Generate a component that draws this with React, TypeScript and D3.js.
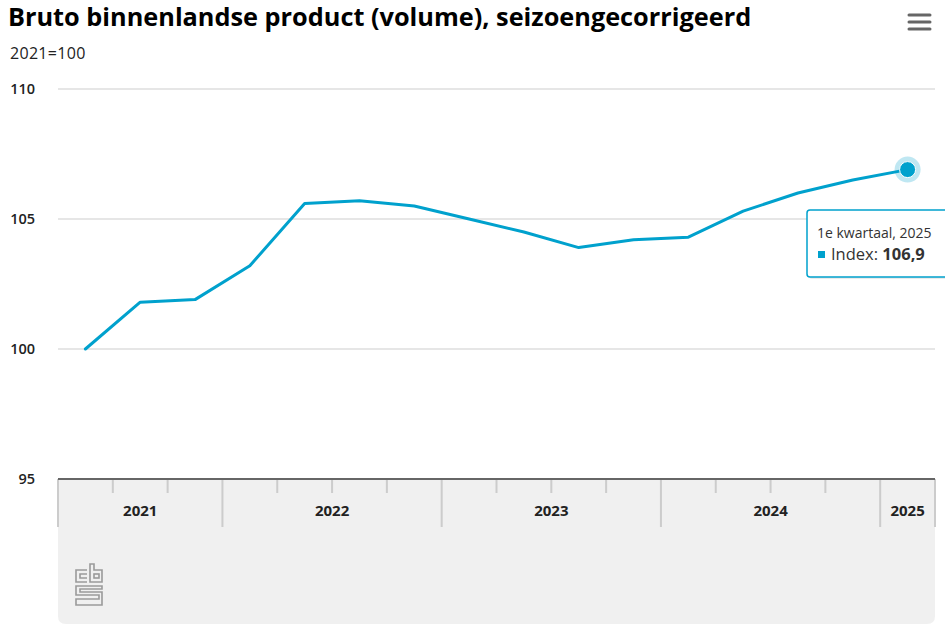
import React from "react";
import * as d3 from "d3";

const periods = [
  "2021 2e kwartaal", "2021 3e kwartaal", "2021 4e kwartaal",
  "2022 1e kwartaal", "2022 2e kwartaal", "2022 3e kwartaal", "2022 4e kwartaal",
  "2023 1e kwartaal", "2023 2e kwartaal", "2023 3e kwartaal", "2023 4e kwartaal",
  "2024 1e kwartaal", "2024 2e kwartaal", "2024 3e kwartaal", "2024 4e kwartaal",
  "2025 1e kwartaal",
];
const periodYears = ["2021", "2021", "2021", "2022", "2022", "2022", "2022", "2023", "2023", "2023", "2023", "2024", "2024", "2024", "2024", "2025"];
const indexValues = [100.0, 101.8, 101.9, 103.2, 105.6, 105.7, 105.5, 105.0, 104.5, 103.9, 104.2, 104.3, 105.3, 106.0, 106.5, 106.9];
const yTicks = [95, 100, 105, 110];

const W = 945;
const H = 631;
const FONT = "'Open Sans', 'Noto Sans', sans-serif";
const BLUE = "#00a1cd";

export default function App() {
  const left = 58, right = 935, top = 89, bottom = 479;
  const x = d3.scaleBand<string>().domain(periods).range([left, right]).padding(0);
  const y = d3.scaleLinear().domain([95, 110]).range([bottom, top]);
  const cx = (p: string) => (x(p) ?? 0) + x.bandwidth() / 2;

  const line = d3
    .line<number>()
    .x((_, i) => cx(periods[i]))
    .y((d) => y(d))
    .curve(d3.curveLinear);

  const years = Array.from(new Set(periodYears));
  const groups = years.map((yr) => {
    const idx = periodYears.map((v, i) => (v === yr ? i : -1)).filter((i) => i >= 0);
    const x0 = x(periods[idx[0]]) ?? 0;
    const x1 = (x(periods[idx[idx.length - 1]]) ?? 0) + x.bandwidth();
    return { yr, x0, x1 };
  });

  const lastI = indexValues.length - 1;
  const lx = cx(periods[lastI]);
  const ly = y(indexValues[lastI]);
  const lastLabel = periods[lastI].split(" ");

  const bandBottom = 624;
  const r = 8;

  return (
    <svg width={W} height={H} style={{ position: "absolute", left: 0, top: 0, fontFamily: FONT }}>
      <rect x={0} y={0} width={W} height={H} fill="#fff" />
      <text x={8} y={26} fontSize={25.3} fontWeight={700} fill="#000">
        Bruto binnenlandse product (volume), seizoengecorrigeerd
      </text>
      <text x={10} y={59} fontSize={16} fontWeight={500} letterSpacing={0.3} fill="#222">2021=100</text>

      {/* hamburger */}
      {[15, 22, 29].map((yy) => (
        <line key={yy} x1={909} x2={930} y1={yy} y2={yy} stroke="#666" strokeWidth={3} strokeLinecap="round" />
      ))}

      {/* gridlines */}
      {yTicks.filter((t) => t !== 95).map((t) => (
        <line key={t} x1={left} x2={right} y1={y(t)} y2={y(t)} stroke="#e6e6e6" strokeWidth={2} />
      ))}
      {yTicks.map((t) => (
        <text key={t} x={35} y={y(t)} dy="0.35em" textAnchor="end" fontSize={14.5} fontWeight={600} fill="#222">
          {t}
        </text>
      ))}

      {/* x band */}
      <path
        d={`M${left},${bottom} H${right} V${bandBottom - r} Q${right},${bandBottom} ${right - r},${bandBottom} H${left + r} Q${left},${bandBottom} ${left},${bandBottom - r} Z`}
        fill="#f0f0f0"
      />
      {periods.map((p, i) => {
        const xs = x(p) ?? 0;
        const major = i === 0 || periodYears[i] !== periodYears[i - 1];
        return (
          <line key={p} x1={xs} x2={xs} y1={bottom} y2={major ? 527 : 493} stroke="#cccccc" strokeWidth={2} />
        );
      })}
      <line x1={right} x2={right} y1={bottom} y2={527} stroke="#cccccc" strokeWidth={2} />
      <line x1={left} x2={right} y1={bottom} y2={bottom} stroke="#666" strokeWidth={2} />
      {groups.map((g) => (
        <text key={g.yr} x={(g.x0 + g.x1) / 2} y={516} textAnchor="middle" fontSize={15} fontWeight={700} fill="#222">
          {g.yr}
        </text>
      ))}

      {/* cbs logo */}
      <g fill="none" stroke="#9a9a9a" strokeWidth={1.6}>
        <path d="M87,570 H76 V582 H87 M87,574 H80 V578 H87" />
        <path d="M90,564 V582 H102 V570 H94 V564 Z" />
        <rect x={94} y={574} width={5} height={4} />
        <path d="M102,586 H76 V595 H99 V599 H76 V605 H102 V592 H80 V589 H102 Z" />
      </g>

      {/* line */}
      <path d={line(indexValues) ?? ""} fill="none" stroke={BLUE} strokeWidth={3} strokeLinejoin="round" strokeLinecap="round" />

      {/* hover marker */}
      <circle cx={lx} cy={ly} r={13} fill={BLUE} fillOpacity={0.25} />
      <circle cx={lx} cy={ly} r={8} fill={BLUE} stroke="#fff" strokeWidth={1} />

      {/* tooltip */}
      <g>
        <rect x={808} y={211} width={145} height={67} rx={3} fill="#000" fillOpacity={0.08} transform="translate(1,1)" />
        <rect x={807} y={210} width={145} height={67} rx={3} fill="#fff" stroke={BLUE} strokeWidth={1.5} />
        <text x={817} y={238} fontSize={14} fill="#333">
          {`${lastLabel[1]} ${lastLabel[2]}, ${lastLabel[0]}`}
        </text>
        <rect x={818} y={251} width={7} height={7} fill={BLUE} />
        <text x={831} y={260} fontSize={16.5} fill="#333">
          Index: <tspan fontWeight={700}>{d3.format(".1f")(indexValues[lastI]).replace(".", ",")}</tspan>
        </text>
      </g>
    </svg>
  );
}
